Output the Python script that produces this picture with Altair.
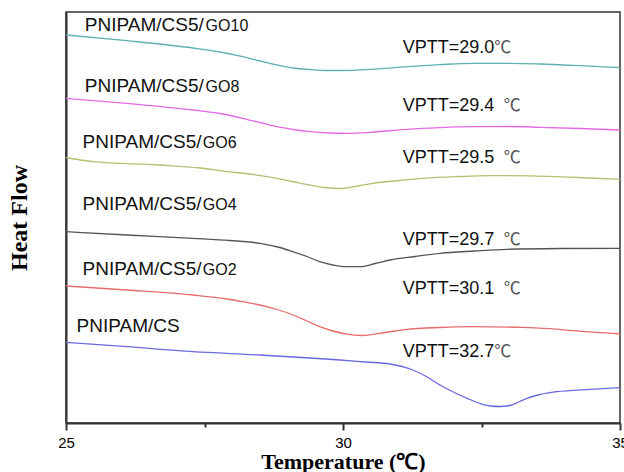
import altair as alt
import pandas as pd

# ---------------- data ----------------
series_names = ["PNIPAM/CS5/GO10", "PNIPAM/CS5/GO8", "PNIPAM/CS5/GO6",
                "PNIPAM/CS5/GO4", "PNIPAM/CS5/GO2", "PNIPAM/CS"]
series_colors = ["#5fb0b0", "#e36ae3", "#b9bd72", "#555555", "#e86c6c", "#6a6ae0"]

go10_t = [25.00, 26.10, 27.29, 27.78, 28.19, 28.50, 28.81, 29.10, 29.40, 29.77,
          30.13, 30.49, 31.16, 31.75, 32.35, 33.01, 33.56, 34.28, 35.00]
go10_hf = [388, 382.3, 375, 371, 366.3, 362, 358, 355, 353.5, 352.5,
           352.7, 353.7, 356.3, 358.3, 359.7, 359.7, 359, 357.3, 355.3]

go8_t = go10_t
go8_hf = [324.7, 319.7, 313, 309.5, 304.7, 300.5, 296.3, 293.5, 291.3, 290,
          289.7, 290.7, 293.7, 295.3, 296.3, 296.5, 295.7, 294.5, 293]

go6_t = [25.00, 25.49, 26.70, 27.42, 27.91, 28.32, 28.81, 29.13, 29.40, 29.68, 29.95,
         30.31, 30.54, 31.03, 31.44, 32.11, 32.65, 33.38, 33.86, 34.46, 35.00]
go6_hf = [265.5, 261.3, 258, 255, 251.3, 249, 244.7, 241, 238, 235.5, 234.5,
          237.5, 239.7, 242.5, 244.7, 246.5, 247.3, 247.2, 246.3, 245, 243.7]

go4_t = [25.00, 26.10, 27.29, 27.96, 28.50, 28.86, 29.10, 29.35, 29.58, 29.82,
         30.04, 30.31, 30.58, 30.85, 31.30, 31.75, 32.38, 32.96, 33.92, 35.00]
go4_hf = [191.3, 188, 184.7, 182.5, 179.7, 175.5, 171.3, 166.5, 161.3, 158,
          156.3, 156.3, 159.5, 163, 166.5, 169.7, 172, 173.7, 174.5, 174.7]

go2_t = [25.00, 26.10, 27.29, 27.91, 28.19, 28.50, 28.81, 29.10, 29.35, 29.58, 29.82,
         30.04, 30.36, 30.76, 31.16, 31.75, 32.35, 33.25, 33.74, 34.15, 35.00]
go2_hf = [137, 133, 128, 124, 121.3, 118, 113.5, 108, 102, 96.3, 92,
          89.2, 87.5, 90.5, 93.7, 95.5, 96.3, 95.7, 94.3, 92.3, 89]

cs_t = [25.00, 26.10, 27.29, 28.50, 29.40, 29.95, 30.40, 30.85, 31.26, 31.52, 31.75,
        31.99, 32.24, 32.47, 32.65, 32.83, 33.01, 33.19, 33.32, 33.56, 33.86, 34.46, 35.00]
cs_hf = [80.7, 76.3, 71.3, 68, 65, 63, 61, 59, 53, 46, 38,
         31, 24.7, 19.5, 17, 16.5, 17.5, 21.5, 24.7, 28.5, 31.3, 33.7, 35.3]

# sample labels
label_prefix = ["PNIPAM/CS5/", "PNIPAM/CS5/", "PNIPAM/CS5/", "PNIPAM/CS5/", "PNIPAM/CS5/", "PNIPAM/CS"]
label_suffix = ["GO10", "GO8", "GO6", "GO4", "GO2", ""]
label_x = [25.34, 25.34, 25.30, 25.30, 25.30, 25.19]
label_suffix_x = [27.52, 27.52, 27.47, 27.47, 27.47, 27.47]
label_y = [392, 331.5, 275, 213, 148, 91]

# VPTT annotations
vptt_text = ["VPTT=29.0", "VPTT=29.4", "VPTT=29.5", "VPTT=29.7", "VPTT=30.1", "VPTT=32.7"]
vptt_x = [31.08, 31.08, 31.08, 31.08, 31.08, 31.08]
vptt_y = [370.3, 312.3, 260.3, 178, 129, 65.7]
unit_x = [32.73, 32.90, 32.90, 32.90, 32.90, 32.73]

# ---------------- tables ----------------
curves = [(go10_t, go10_hf), (go8_t, go8_hf), (go6_t, go6_hf),
          (go4_t, go4_hf), (go2_t, go2_hf), (cs_t, cs_hf)]
rows = []
for name, (ts, hs) in zip(series_names, curves):
    for i, (t, h) in enumerate(zip(ts, hs)):
        rows.append({"series": name, "T": t, "HF": h, "order": i})
df = pd.DataFrame(rows)

labels_df = pd.DataFrame({"prefix": label_prefix, "suffix": label_suffix,
                          "x": label_x, "sx": label_suffix_x, "y": label_y})
vptt_df = pd.DataFrame({"text": vptt_text, "x": vptt_x, "y": vptt_y,
                        "ux": unit_x, "unit": ["℃"] * 6})

xscale = alt.Scale(domain=[25, 35], nice=False, zero=False)
yscale = alt.Scale(domain=[0, 411], nice=False, zero=False)

xaxis = alt.Axis(
    values=[25, 27.5, 30, 32.5, 35],
    labelExpr="datum.value % 5 === 0 ? datum.label : ''",
    title="Temperature (℃)",
    titleFont="Liberation Serif", titleFontSize=22, titleFontWeight="bold",
    titleColor="black", titlePadding=1,
    labelFont="Liberation Sans", labelFontSize=15, labelColor="black",
    labelPadding=5, labelFlush=False,
    tickSize={"condition": {"test": "datum.value % 5 !== 0", "value": 4}, "value": 7},
    tickColor="#333", tickWidth=2, domainColor="#333", domainWidth=2,
    grid=False,
)
yaxis = alt.Axis(
    title="Heat Flow", labels=False, ticks=False, grid=False,
    titleFont="Liberation Serif", titleFontSize=24, titleFontWeight="bold",
    titleColor="black", titlePadding=35, domainColor="#333", domainWidth=2,
)

lines = alt.Chart(df).mark_line(strokeWidth=1.3, interpolate="monotone").encode(
    x=alt.X("T:Q", scale=xscale, axis=xaxis),
    y=alt.Y("HF:Q", scale=yscale, axis=yaxis),
    color=alt.Color("series:N", scale=alt.Scale(domain=series_names, range=series_colors), legend=None),
    order="order:Q",
)

prefix_text = alt.Chart(labels_df).mark_text(
    align="left", baseline="alphabetic", font="Liberation Sans", fontSize=19, color="#111"
).encode(x=alt.X("x:Q", scale=xscale), y=alt.Y("y:Q", scale=yscale), text="prefix:N")

suffix_text = alt.Chart(labels_df).mark_text(
    align="left", baseline="alphabetic", font="Liberation Sans", fontSize=16, color="#111"
).encode(x=alt.X("sx:Q", scale=xscale), y=alt.Y("y:Q", scale=yscale), text="suffix:N")

vptt_main = alt.Chart(vptt_df).mark_text(
    align="left", baseline="alphabetic", font="Liberation Sans", fontSize=18, color="#111"
).encode(x=alt.X("x:Q", scale=xscale), y=alt.Y("y:Q", scale=yscale), text="text:N")

vptt_unit = alt.Chart(vptt_df).mark_text(
    align="left", baseline="alphabetic", font="Noto Sans CJK SC", fontSize=17, color="#555"
).encode(x=alt.X("ux:Q", scale=xscale), y=alt.Y("y:Q", scale=yscale), text="unit:N")

chart = alt.layer(lines, prefix_text, suffix_text, vptt_main, vptt_unit).properties(
    width=554, height=411,
    autosize=alt.AutoSizeParams(type="none"),
    padding={"left": 66, "top": 12, "right": 4, "bottom": 49},
    background="white",
).configure_view(stroke="#333", strokeWidth=1.5)

chart.save("out.html", embed_options={"renderer": "svg", "actions": False})
